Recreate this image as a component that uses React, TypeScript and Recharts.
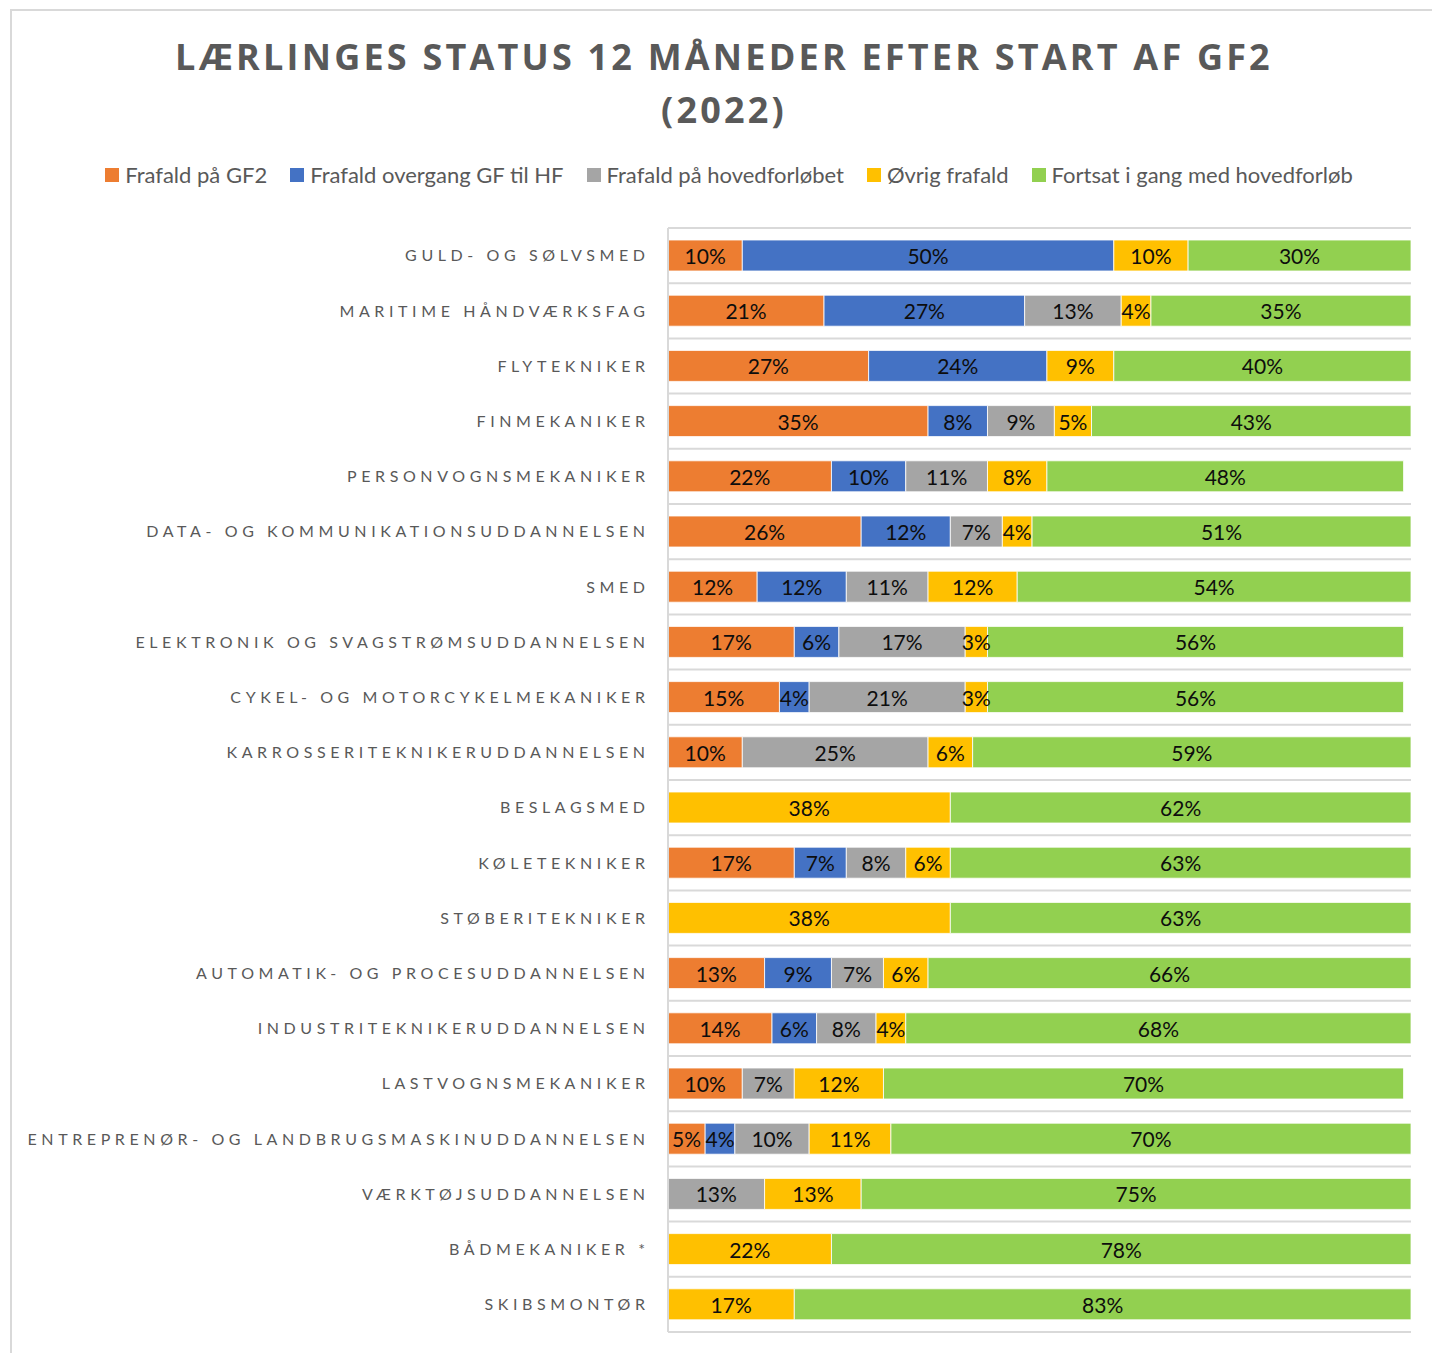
import React from 'react';
import { BarChart, Bar, XAxis, YAxis, CartesianGrid, LabelList } from 'recharts';

const categories = [
  'GULD- OG SØLVSMED',
  'MARITIME HÅNDVÆRKSFAG',
  'FLYTEKNIKER',
  'FINMEKANIKER',
  'PERSONVOGNSMEKANIKER',
  'DATA- OG KOMMUNIKATIONSUDDANNELSEN',
  'SMED',
  'ELEKTRONIK OG SVAGSTRØMSUDDANNELSEN',
  'CYKEL- OG MOTORCYKELMEKANIKER',
  'KARROSSERITEKNIKERUDDANNELSEN',
  'BESLAGSMED',
  'KØLETEKNIKER',
  'STØBERITEKNIKER',
  'AUTOMATIK- OG PROCESUDDANNELSEN',
  'INDUSTRITEKNIKERUDDANNELSEN',
  'LASTVOGNSMEKANIKER',
  'ENTREPRENØR- OG LANDBRUGSMASKINUDDANNELSEN',
  'VÆRKTØJSUDDANNELSEN',
  'BÅDMEKANIKER  *',
  'SKIBSMONTØR',
];

const frafaldGF2 = [10, 21, 27, 35, 22, 26, 12, 17, 15, 10, null, 17, null, 13, 14, 10, 5, null, null, null];
const frafaldOvergang = [50, 27, 24, 8, 10, 12, 12, 6, 4, null, null, 7, null, 9, 6, null, 4, null, null, null];
const frafaldHoved = [null, 13, null, 9, 11, 7, 11, 17, 21, 25, null, 8, null, 7, 8, 7, 10, 13, null, null];
const oevrigFrafald = [10, 4, 9, 5, 8, 4, 12, 3, 3, 6, 38, 6, 38, 6, 4, 12, 11, 13, 22, 17];
const fortsat = [30, 35, 40, 43, 48, 51, 54, 56, 56, 59, 62, 63, 63, 66, 68, 70, 70, 75, 78, 83];

const series = [
  { key: 'gf2', name: 'Frafald på GF2', color: '#ED7D31', values: frafaldGF2 },
  { key: 'overgang', name: 'Frafald overgang GF til HF', color: '#4472C4', values: frafaldOvergang },
  { key: 'hoved', name: 'Frafald på hovedforløbet', color: '#A5A5A5', values: frafaldHoved },
  { key: 'oevrig', name: 'Øvrig frafald', color: '#FFC000', values: oevrigFrafald },
  { key: 'fortsat', name: 'Fortsat i gang med hovedforløb', color: '#92D050', values: fortsat },
];

const data = categories.map((name, i) => {
  const row: any = { name };
  series.forEach((s) => {
    row[s.key] = s.values[i];
  });
  return row;
});

const FONT = 'Lato, "Open Sans", sans-serif';
const LS = 4.6;

const CategoryTick = ({ x, y, payload }: any) => (
  <text
    x={x + LS}
    y={y}
    dy="0.36em"
    textAnchor="end"
    fill="#595959"
    fontFamily={FONT}
    fontSize={16}
    letterSpacing={LS}
  >
    {payload.value}
  </text>
);

const gridLines = ({ offset }: any) => {
  const n = categories.length;
  return Array.from({ length: n + 1 }, (_, i) => offset.top + (i * offset.height) / n);
};

const App: React.FC = () => {
  return (
    <div style={{ position: 'absolute', left: 0, top: 0, width: 1432, height: 1353, background: '#fff', overflow: 'hidden' }}>
      <div
        style={{
          position: 'absolute',
          left: 10,
          top: 9,
          width: 1422,
          height: 1344,
          borderLeft: '2px solid #d9d9d9',
          borderTop: '2px solid #d9d9d9',
          boxSizing: 'border-box',
        }}
      />
      <div
        style={{
          position: 'absolute',
          left: 24,
          top: 30,
          width: 1400,
          textAlign: 'center',
          fontFamily: '"Open Sans", sans-serif',
          fontWeight: 700,
          fontSize: 36,
          lineHeight: '53px',
          letterSpacing: 3.2,
          color: '#595959',
        }}
      >
        LÆRLINGES STATUS 12 MÅNEDER EFTER START AF GF2
        <br />
        (2022)
      </div>
      <div
        style={{
          position: 'absolute',
          left: 29,
          top: 161,
          width: 1400,
          display: 'flex',
          justifyContent: 'center',
          gap: 23,
          fontFamily: FONT,
          fontSize: 22,
          color: '#595959',
        }}
      >
        {series.map((s) => (
          <div key={s.key} style={{ display: 'flex', alignItems: 'center' }}>
            <span style={{ width: 14, height: 14, background: s.color, display: 'inline-block', marginRight: 6 }} />
            <span>{s.name}</span>
          </div>
        ))}
      </div>
      <div style={{ position: 'absolute', left: 0, top: 0 }}>
        <BarChart
          width={1432}
          height={1353}
          data={data}
          layout="vertical"
          margin={{ top: 228, right: 21, bottom: 21, left: 0 }}
          barSize={31}
        >
          <CartesianGrid
            vertical={false}
            stroke="#d9d9d9"
            strokeWidth={2}
            horizontalCoordinatesGenerator={gridLines}
          />
          <XAxis type="number" domain={[0, 100]} allowDataOverflow hide />
          <YAxis
            type="category"
            dataKey="name"
            width={668}
            tickLine={false}
            tickSize={0}
            tickMargin={23}
            axisLine={{ stroke: '#d9d9d9', strokeWidth: 2 }}
            tick={<CategoryTick />}
            interval={0}
          />
          {series.map((s) => (
            <Bar
              key={s.key}
              dataKey={s.key}
              name={s.name}
              stackId="a"
              fill={s.color}
              stroke="#ffffff"
              strokeWidth={0.8}
              isAnimationActive={false}
            >
              <LabelList
                dataKey={s.key}
                position="center"
                fill="#0d0d0d"
                fontFamily={FONT}
                fontSize={21}
                dy={1}
                formatter={(v: any) => (v ? `${v}%` : '')}
              />
            </Bar>
          ))}
        </BarChart>
      </div>
    </div>
  );
};

export default App;
